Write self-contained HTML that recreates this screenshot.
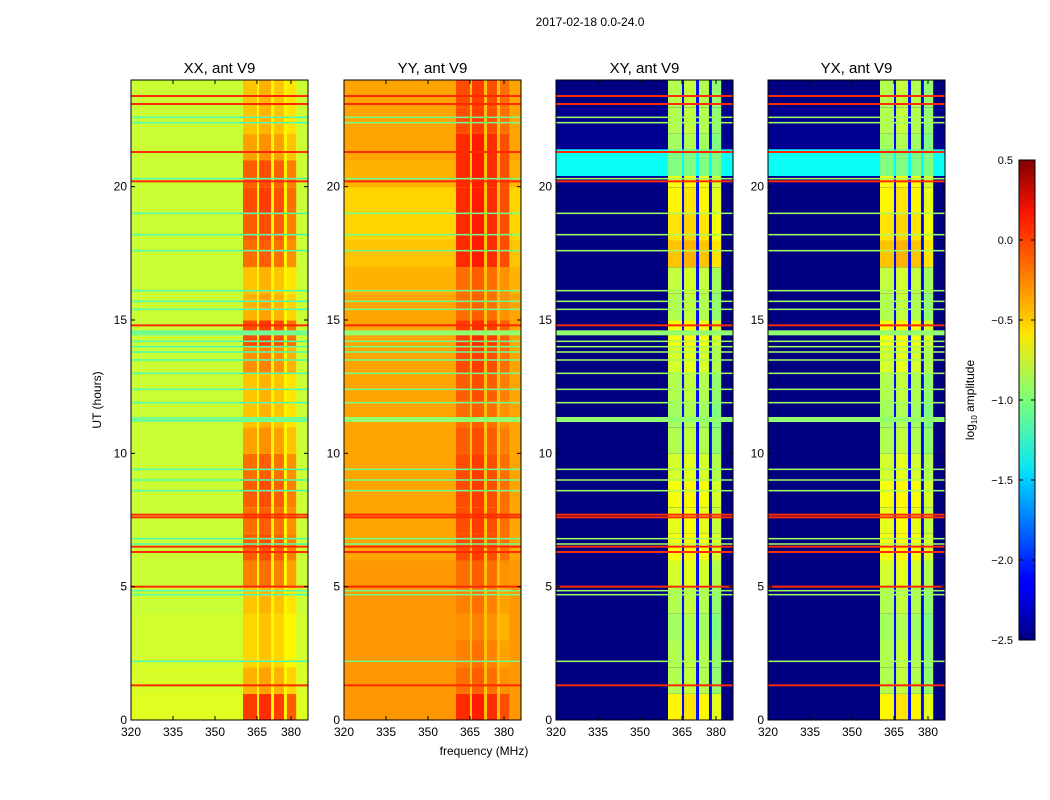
<!DOCTYPE html>
<html><head><meta charset="utf-8"><style>
body{margin:0;background:#fff;}
svg{display:block;font-family:"Liberation Sans","DejaVu Sans",sans-serif;}
</style></head><body>
<svg id="fig" width="1050" height="800" viewBox="0 0 1050 800">
<text x="590" y="26" font-size="12" text-anchor="middle">2017-02-18 0.0-24.0</text>
<text x="484" y="755" font-size="12" text-anchor="middle">frequency (MHz)</text>
<text transform="translate(101,400) rotate(-90)" font-size="12" text-anchor="middle">UT (hours)</text>
<text transform="translate(974,400) rotate(-90)" font-size="12" text-anchor="middle">log<tspan font-size="8" dy="3">10</tspan><tspan dy="-3"> amplitude</tspan></text>
<defs><linearGradient id="jet" x1="0" y1="1" x2="0" y2="0">
<stop offset="0" stop-color="#000080"/><stop offset="0.11" stop-color="#0000ff"/><stop offset="0.125" stop-color="#0000ff"/><stop offset="0.34" stop-color="#00d4ff"/><stop offset="0.36" stop-color="#0de5f2"/><stop offset="0.5" stop-color="#7dff7a"/><stop offset="0.64" stop-color="#ffe600"/><stop offset="0.66" stop-color="#ffd000"/><stop offset="0.89" stop-color="#ff1300"/><stop offset="1" stop-color="#800000"/></linearGradient></defs>
<g id="plots"></g>
<rect x="1019" y="160" width="16" height="480" fill="url(#jet)" stroke="#000" stroke-width="1"/>
<g id="cbticks"></g>
</svg>
<script>
const hours = [0,1,2,3,4,5,6,7,8,9,10,11,12,13,14,15,16,17,18,19,20,21,22,23];
const xxBand = [-0.05,-0.4,-0.5,-0.5,-0.45,-0.25,-0.15,-0.2,-0.15,-0.2,-0.35,-0.45,-0.45,-0.3,-0.1,-0.4,-0.45,-0.2,-0.15,-0.1,-0.15,-0.35,-0.45,-0.45];
const xxBg = [-0.72,-0.74,-0.76,-0.76,-0.78,-0.78,-0.78,-0.78,-0.78,-0.78,-0.78,-0.78,-0.78,-0.78,-0.78,-0.78,-0.78,-0.78,-0.78,-0.78,-0.78,-0.78,-0.78,-0.78];
const yyBand = [0.0,-0.2,-0.25,-0.3,-0.25,-0.2,-0.1,-0.1,-0.1,-0.1,-0.15,-0.2,-0.15,-0.1,-0.05,-0.2,-0.2,0.0,0.0,0.0,0.0,0.0,-0.1,-0.1];
const yyBg = [-0.32,-0.32,-0.32,-0.32,-0.32,-0.32,-0.36,-0.36,-0.36,-0.36,-0.36,-0.36,-0.36,-0.36,-0.36,-0.36,-0.4,-0.45,-0.5,-0.5,-0.4,-0.36,-0.36,-0.36];
const xyBand = [-0.6,-0.85,-0.85,-0.9,-0.85,-0.75,-0.65,-0.7,-0.65,-0.75,-0.85,-0.9,-0.85,-0.75,-0.65,-0.85,-0.8,-0.45,-0.55,-0.6,-0.65,-0.9,-0.85,-0.85];
const yxBand = [-0.6,-0.85,-0.85,-0.9,-0.85,-0.75,-0.65,-0.7,-0.65,-0.75,-0.85,-0.9,-0.85,-0.75,-0.65,-0.85,-0.8,-0.45,-0.55,-0.6,-0.65,-0.9,-0.85,-0.85];
const crossBg = [-2.5,-2.5,-2.5,-2.5,-2.5,-2.5,-2.5,-2.5,-2.5,-2.5,-2.5,-2.5,-2.5,-2.5,-2.5,-2.5,-2.5,-2.5,-2.5,-2.5,-2.45,-2.45,-2.45,-2.5];
const bandStart = [360,365.9,372.5,378.2];
const bandEnd = [365,371.2,376.9,382.3];
const redLines = [1.3,5.0,6.3,6.5,7.6,7.7,14.8,20.2,21.3,23.1,23.4];
const cyanLines = [2.2,4.7,4.85,6.6,6.8,8.6,9.0,9.4,11.9,12.4,13.0,13.5,13.8,14.0,14.2,15.4,15.7,16.1,17.6,18.2,19.0,20.3,22.4,22.6];
const wideLines = [11.25,14.5];
const crossBandStart = [20.4];
const crossBandEnd = [21.4];
const crossBandValue = [-1.35];
const xTicks = [320,335,350,365,380];
const xTickPx = [0,42,84,126,160];
const yTicks = [0,5,10,15,20];
const cbTicks = [-2.5,-2.0,-1.5,-1.0,-0.5,0.0,0.5];
const panelTitles = ["XX, ant V9","YY, ant V9","XY, ant V9","YX, ant V9"];
const panelLeft = [131,344,556,768];

const PW=177, PT=80, PH=640, VMIN=-2.5, VMAX=0.5;
function xs(f){
  if(f>=380) return 160+(f-380)*(177-160)/7.5;
  for(let i=0;i<xTicks.length-1;i++){ if(f<=xTicks[i+1]) return xTickPx[i]+(f-xTicks[i])/(xTicks[i+1]-xTicks[i])*(xTickPx[i+1]-xTickPx[i]); }
}
function ys(h){ return PT+PH-h/24*PH; }
function jet(v){
  let x=Math.max(0,Math.min(1,(v-VMIN)/(VMAX-VMIN)));
  const c=t=>Math.round(255*Math.max(0,Math.min(1,1.5-Math.abs(4*x-t))));
  return `rgb(${c(3)},${c(2)},${c(1)})`;
}
const NS="http://www.w3.org/2000/svg";
function mk(tag,attrs,parent){const e=document.createElementNS(NS,tag);for(const k in attrs)e.setAttribute(k,attrs[k]);parent.appendChild(e);return e;}
const plots=document.getElementById('plots');
const panels=[
 {band:xxBand,bg:xxBg,gap:-0.6,cyan:-1.15,wide:-1.05,cross:false},
 {band:yyBand,bg:yyBg,gap:-0.45,cyan:-1.05,wide:-0.95,cross:false},
 {band:xyBand,bg:crossBg,gap:-2.1,cyan:-0.9,wide:-0.95,cross:true},
 {band:yxBand,bg:crossBg,gap:-2.1,cyan:-0.9,wide:-0.95,cross:true}
];
panels.forEach((p,pi)=>{
  const L=panelLeft[pi];
  const g=mk('g',{},plots);
  
  
  const clip=mk('clipPath',{id:'c'+pi},g); mk('rect',{x:L,y:PT,width:PW,height:PH},clip);
  const hm=mk('g',{'clip-path':`url(#c${pi})`},g);
  hours.forEach((h,i)=>{
    const y0=ys(h+1), hh=ys(h)-ys(h+1);
    const bg=mk('rect',{x:L,y:y0,width:PW,height:hh+0.5,fill:jet(p.bg[i])},hm);
    
    
    const gp=mk('rect',{x:L+xs(bandStart[0]),y:y0,width:xs(bandEnd[3])-xs(bandStart[0]),height:hh+0.5,fill:jet(p.gap)},hm);
    
    
    bandStart.forEach((bs,bi)=>{
      const r=mk('rect',{x:L+xs(bs),y:y0,width:xs(bandEnd[bi])-xs(bs),height:hh+0.5,fill:jet(p.band[i]+(bi===1?0.05:bi===3?-0.1:0))},hm);
      
      
    });
  });
  if(p.cross){
    crossBandStart.forEach((s,k)=>{
      const r=mk('rect',{x:L,y:ys(crossBandEnd[k]),width:PW,height:ys(s)-ys(crossBandEnd[k]),fill:jet(crossBandValue[k])},hm);
      
      
      bandStart.forEach((bs,bi)=>{
        const b=mk('rect',{x:L+xs(bs),y:ys(crossBandEnd[k]),width:xs(bandEnd[bi])-xs(bs),height:ys(s)-ys(crossBandEnd[k]),fill:jet(crossBandValue[k]+0.35)},hm);
        
        
      });
    });
  }
  wideLines.forEach(t=>{
    const r=mk('rect',{x:L,y:ys(t)-3,width:PW,height:5,fill:jet(p.wide)},hm);
    
    
  });
  cyanLines.forEach(t=>{
    const r=mk('rect',{x:L,y:ys(t)-0.75,width:PW,height:1.5,fill:jet(p.cyan)},hm);
    
    
  });
  redLines.forEach(t=>{
    const r=mk('rect',{x:L,y:ys(t)-1,width:PW,height:2,fill:jet(0.0)},hm);
    
    
  });
  mk('rect',{x:L,y:PT,width:PW,height:PH,fill:'none',stroke:'#000','stroke-width':1},g);
  const t=mk('text',{x:L+PW/2,y:PT-7,'font-size':15,'text-anchor':'middle'},g);
  t.textContent=panelTitles[pi];
  
  
  xTicks.forEach(v=>{
    const x=L+xs(v);
    mk('line',{x1:x,x2:x,y1:PT+PH,y2:PT+PH-4,stroke:'#000'},g);
    mk('line',{x1:x,x2:x,y1:PT,y2:PT+4,stroke:'#000'},g);
    const tl=mk('text',{x:x,y:PT+PH+16,'font-size':12,'text-anchor':'middle'},g);
    tl.textContent=v;
    
    
  });
  yTicks.forEach(v=>{
    const y=ys(v);
    mk('line',{x1:L,x2:L+4,y1:y,y2:y,stroke:'#000'},g);
    mk('line',{x1:L+PW,x2:L+PW-4,y1:y,y2:y,stroke:'#000'},g);
    const tl=mk('text',{x:L-4,y:y+4,'font-size':12,'text-anchor':'end'},g);
    tl.textContent=v;
    
    
  });
});
const cb=document.getElementById('cbticks');
cbTicks.forEach(v=>{
  const y=640-(v-VMIN)/(VMAX-VMIN)*480;
  mk('line',{x1:1019,x2:1023,y1:y,y2:y,stroke:'#000'},cb);
  mk('line',{x1:1031,x2:1035,y1:y,y2:y,stroke:'#000'},cb);
  const tl=mk('text',{x:1013,y:y+4,'font-size':11,'text-anchor':'end'},cb);
  tl.textContent=(v<0?'\u2212':'')+Math.abs(v).toFixed(1);
  
  
});
</script>
</body></html>
